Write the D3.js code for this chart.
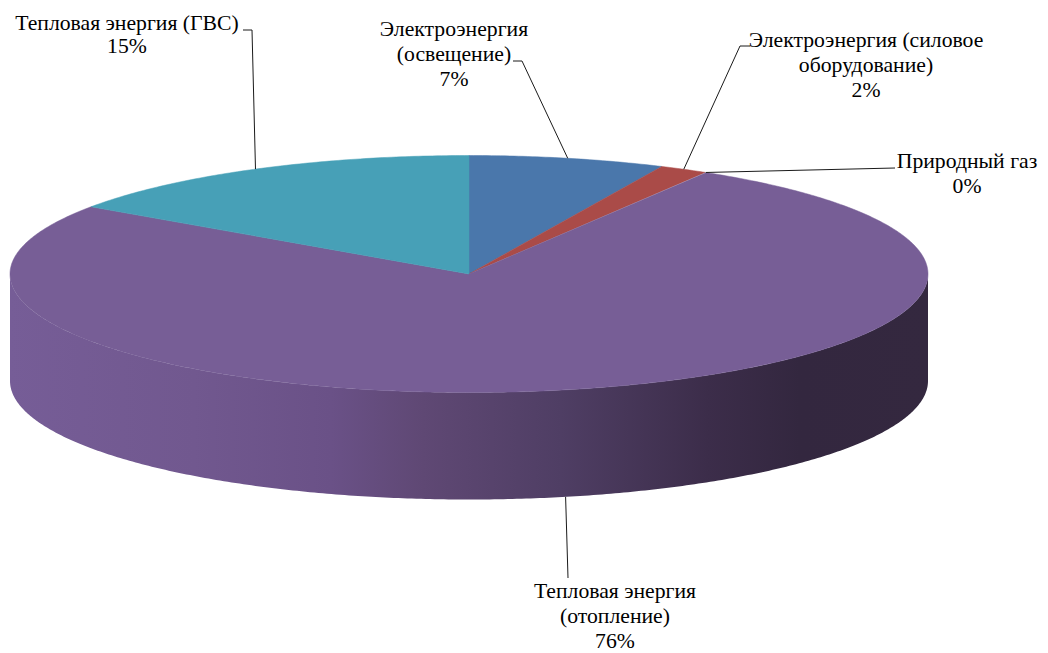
<!DOCTYPE html>
<html>
<head>
<meta charset="utf-8">
<script src="https://cdn.jsdelivr.net/npm/d3@7"></script>
<style>
  html, body { margin: 0; padding: 0; background: #fff; }
  svg { display: block; }
</style>
</head>
<body>
<div id="chart"></div>
<script>
// slice data, clockwise from 12 o'clock
var categories = [
  "Электроэнергия (освещение)",
  "Электроэнергия (силовое оборудование)",
  "Природный газ",
  "Тепловая энергия (отопление)",
  "Тепловая энергия (ГВС)"
];
var values = [6.9, 1.7, 0.05, 75.95, 15.4];
var percentLabels = ["7%", "2%", "0%", "76%", "15%"];
var labelLines = [
  ["Электроэнергия", "(освещение)"],
  ["Электроэнергия (силовое", "оборудование)"],
  ["Природный газ"],
  ["Тепловая энергия", "(отопление)"],
  ["Тепловая энергия (ГВС)"]
];
var colors = ["#4A77AB", "#AA4B48", "#8AAB52", "#775E96", "#47A0B7"];

// label placement (text centre, first baseline, where the leader line ends)
var labelLayout = [
  {x: 454, y: 36,  end: [513, 61], elbow: [522, 61]},
  {x: 866, y: 47,  end: [750, 46], elbow: [740, 46]},
  {x: 967, y: 168, end: [895, 168], elbow: null},
  {x: 615, y: 598, end: [568, 578], elbow: null},
  {x: 127, y: 30,  end: [243, 30], elbow: [252, 30]}
];

var width = 1048, height = 653;
var cx = 469, cy = 274, rx = 459, ry = 118.5, depth = 107;
var lineH = 25;

var svg = d3.select("#chart").append("svg")
    .attr("width", width)
    .attr("height", height);

var defs = svg.append("defs");
var grad = defs.append("linearGradient")
    .attr("id", "side-grad")
    .attr("gradientUnits", "userSpaceOnUse")
    .attr("x1", cx - rx).attr("y1", 0)
    .attr("x2", cx + rx).attr("y2", 0);
[[0, "#765D97"], [0.2, "#71588F"], [0.35, "#6A5187"], [0.45, "#5F4874"],
 [0.6, "#4F3E64"], [0.76, "#3C2D4A"], [0.86, "#33273F"], [1, "#34283F"]]
  .forEach(function(s) {
    grad.append("stop").attr("offset", s[0]).attr("stop-color", s[1]);
  });

var pie = d3.pie().sort(null).value(function(d) { return d; })
    .startAngle(0).endAngle(2 * Math.PI);
var arcs = pie(values);

function pt(a, dy) {
  return [cx + rx * Math.sin(a), cy - ry * Math.cos(a) + (dy || 0)];
}

function arcPoints(a0, a1, dy) {
  var n = Math.max(2, Math.ceil((a1 - a0) / 0.01));
  return d3.range(n + 1).map(function(i) { return pt(a0 + (a1 - a0) * i / n, dy); });
}

var line = d3.line();

// side walls (front half only: angles between PI/2 and 3PI/2)
var gSide = svg.append("g").attr("class", "sides");
arcs.forEach(function(d, i) {
  var s = Math.max(d.startAngle, Math.PI / 2);
  var e = Math.min(d.endAngle, 3 * Math.PI / 2);
  if (e <= s) return;
  var pts = arcPoints(s, e, 0).concat(arcPoints(s, e, depth).reverse());
  gSide.append("path")
      .attr("d", line(pts) + "Z")
      .attr("fill", i === 3 ? "url(#side-grad)" : d3.color(colors[i]).darker(1.2));
});

// top faces
var gTop = svg.append("g").attr("class", "tops");
arcs.forEach(function(d, i) {
  if (d.endAngle - d.startAngle < 0.005) return;
  var pts = [[cx, cy]].concat(arcPoints(d.startAngle, d.endAngle, 0));
  gTop.append("path")
      .attr("d", line(pts) + "Z")
      .attr("fill", colors[i])
      .attr("stroke", colors[i])
      .attr("stroke-width", 0.5);
});

// leader lines
var gLead = svg.append("g").attr("class", "leaders");
arcs.forEach(function(d, i) {
  var mid = (d.startAngle + d.endAngle) / 2;
  var front = mid > Math.PI / 2 && mid < 3 * Math.PI / 2;
  var start = pt(mid, front ? depth : 0);
  var L = labelLayout[i];
  var pts = [start];
  if (L.elbow) pts.push(L.elbow);
  pts.push(L.end);
  gLead.append("path")
      .attr("d", line(pts))
      .attr("fill", "none")
      .attr("stroke", "#1a1a1a")
      .attr("stroke-width", 1);
});

// labels
var gLab = svg.append("g").attr("class", "labels");
arcs.forEach(function(d, i) {
  var L = labelLayout[i];
  var txt = gLab.append("text")
      .attr("x", L.x)
      .attr("y", L.y)
      .attr("text-anchor", "middle")
      .style("font-family", "'Liberation Serif'")
      .style("font-size", "21.7px")
      .attr("fill", "#000");
  labelLines[i].concat([percentLabels[i]]).forEach(function(t, k) {
    txt.append("tspan")
        .attr("x", L.x)
        .attr("y", L.y + k * (i === 4 ? 23 : lineH))
        .text(t);
  });
});
</script>
</body>
</html>
